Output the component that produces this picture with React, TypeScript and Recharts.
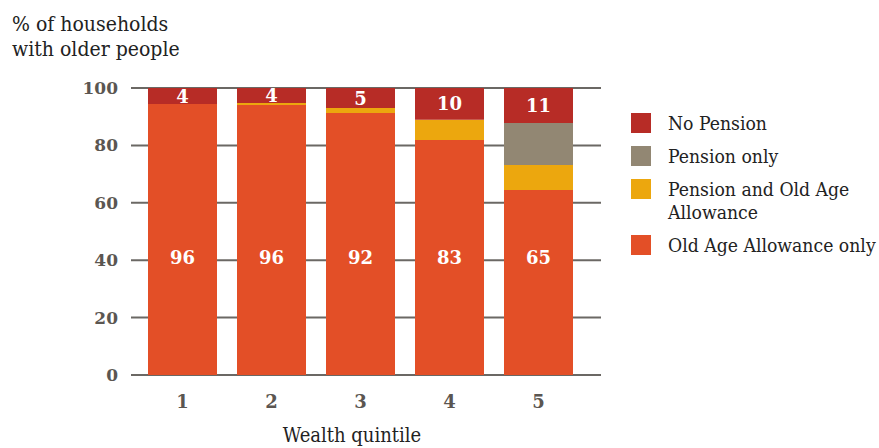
import { Bar, BarChart, CartesianGrid, LabelList, XAxis, YAxis } from "recharts";

const CATEGORIES = ["1", "2", "3", "4", "5"];
const OLD_AGE_ONLY = [94.4, 94.1, 91.3, 81.9, 64.5];
const PENSION_AND_OAA = [0, 0.7, 1.7, 7.0, 8.7];
const PENSION_ONLY = [0, 0, 0, 0, 14.6];
const NO_PENSION = [5.6, 5.2, 7.0, 11.1, 12.2];
const OAA_LABELS = ["96", "96", "92", "83", "65"];
const NO_PENSION_LABELS = ["4", "4", "5", "10", "11"];
const Y_TICKS = [0, 20, 40, 60, 80, 100];

const RED = "#b72c26";
const GREY = "#928773";
const YELLOW = "#eca70e";
const ORANGE = "#e34f27";
const GRID = "#6b6864";
const TICK = "#5b5651";
const FONT = "'DejaVu Serif Condensed', 'DejaVu Serif', serif";
const NUM_FONT = "'DejaVu Serif', serif";

// legend runs top to bottom, the reverse of the stack
const LEGEND_ITEMS = [
  { name: "No Pension", color: RED },
  { name: "Pension only", color: GREY },
  { name: "Pension and Old Age\nAllowance", color: YELLOW },
  { name: "Old Age Allowance only", color: ORANGE },
];

// the big white numbers sit at the same height (about 41%) in every bar
const LABEL_LEVEL = 40.8;

const data = CATEGORIES.map((c, i) => ({
  quintile: c,
  oaa: OLD_AGE_ONLY[i],
  both: PENSION_AND_OAA[i],
  pension: PENSION_ONLY[i],
  none: NO_PENSION[i],
}));

function box(props: any) {
  const vb = props.viewBox ?? {};
  return {
    x: Number(props.x ?? vb.x),
    y: Number(props.y ?? vb.y),
    w: Number(props.width ?? vb.width),
    h: Number(props.height ?? vb.height),
  };
}

function OaaLabel(props: any) {
  const { x, y, w, h } = box(props);
  const i = props.index;
  const perUnit = h / OLD_AGE_ONLY[i];
  const cy = y + h - LABEL_LEVEL * perUnit;
  return (
    <text x={x + w / 2} y={cy} fill="#fff" fontSize={18} fontWeight="bold" fontFamily={NUM_FONT} textAnchor="middle" dominantBaseline="central">
      {OAA_LABELS[i]}
    </text>
  );
}

function NoPensionLabel(props: any) {
  const { x, y, w, h } = box(props);
  const i = props.index;
  return (
    <text x={x + w / 2} y={y + h / 2} fill="#fff" fontSize={18} fontWeight="bold" fontFamily={NUM_FONT} textAnchor="middle" dominantBaseline="central">
      {NO_PENSION_LABELS[i]}
    </text>
  );
}

function LegendBox() {
  return (
    <div
      style={{
        position: "absolute",
        left: 631,
        top: 111.5,
        width: 248,
        fontFamily: FONT,
        fontSize: 19.2,
        color: "#222",
        lineHeight: "23px",
      }}
    >
      {LEGEND_ITEMS.map((p) => (
        <div key={p.name} style={{ display: "flex", alignItems: "flex-start", marginBottom: 10 }}>
          <div style={{ width: 20, height: 20, marginTop: 1.5, background: p.color, flex: "none" }} />
          <div style={{ marginLeft: 17, whiteSpace: "pre" }}>{p.name}</div>
        </div>
      ))}
    </div>
  );
}

export default function App() {
  return (
    <div style={{ position: "absolute", left: 0, top: 0, width: 879, height: 448, background: "#fff" }}>
      <div
        style={{
          position: "absolute",
          left: 12,
          top: 12,
          fontFamily: FONT,
          fontSize: 21,
          lineHeight: "25px",
          color: "#222",
        }}
      >
        % of households
        <br />
        with older people
      </div>
      <LegendBox />
      <div style={{ position: "absolute", left: 0, top: 0 }}>
        <BarChart width={879} height={448} data={data} margin={{ top: 88, right: 278, bottom: 0, left: 0 }} barSize={69}>
          <CartesianGrid horizontal vertical={false} stroke={GRID} strokeWidth={2} />
          <XAxis
            dataKey="quintile"
            height={73}
            padding={{ left: 7, right: 18 }}
            axisLine={false}
            tickLine={false}
            tickMargin={14}
            tick={{ fontSize: 18, fontWeight: "bold", fill: TICK, fontFamily: NUM_FONT }}
            label={{ value: "Wealth quintile", position: "insideBottom", offset: 6, dx: -14, fill: "#222", fontSize: 20, fontFamily: FONT }}
          />
          <YAxis
            width={131}
            domain={[0, 100]}
            ticks={Y_TICKS}
            axisLine={false}
            tickLine={false}
            tickMargin={7}
            tick={{ fontSize: 17, fontWeight: "bold", fill: TICK, fontFamily: NUM_FONT }}
          />
          <Bar dataKey="oaa" name="Old Age Allowance only" stackId="a" fill={ORANGE} isAnimationActive={false}>
            <LabelList dataKey="oaa" content={<OaaLabel />} />
          </Bar>
          <Bar dataKey="both" name="Pension and Old Age Allowance" stackId="a" fill={YELLOW} isAnimationActive={false} />
          <Bar dataKey="pension" name="Pension only" stackId="a" fill={GREY} isAnimationActive={false} />
          <Bar dataKey="none" name="No Pension" stackId="a" fill={RED} isAnimationActive={false}>
            <LabelList dataKey="none" content={<NoPensionLabel />} />
          </Bar>
        </BarChart>
      </div>
    </div>
  );
}
